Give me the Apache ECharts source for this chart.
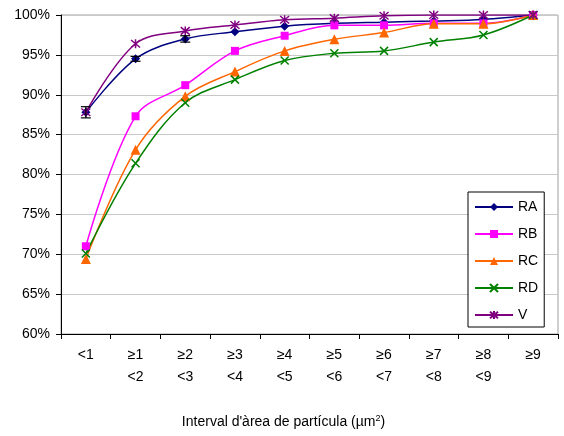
<!DOCTYPE html>
<html>
<head>
<meta charset="utf-8">
<script src="https://cdn.jsdelivr.net/npm/echarts@6/dist/echarts.min.js"></script>
<style>
  html, body { margin: 0; padding: 0; background: #fff; }
  #chart { width: 564px; height: 436px; }
</style>
</head>
<body>
<div id="chart"></div>
<script>
// cumulative share of particles per area interval (%)
var categories = ['<1', '≥1\n<2', '≥2\n<3', '≥3\n<4', '≥4\n<5', '≥5\n<6', '≥6\n<7', '≥7\n<8', '≥8\n<9', '≥9'];
var yTicks = [60, 65, 70, 75, 80, 85, 90, 95, 100];

var RA = [87.8, 94.5, 97.0, 97.9, 98.6, 98.95, 99.1, 99.25, 99.45, 100];
var RB = [71.0, 87.3, 91.2, 95.5, 97.4, 98.7, 98.7, 98.95, 98.95, 100];
var RC = [69.4, 83.1, 89.8, 92.9, 95.5, 96.95, 97.8, 98.9, 98.9, 100];
var RD = [70.1, 81.4, 89.0, 91.9, 94.3, 95.2, 95.5, 96.6, 97.5, 100];
var V  = [87.8, 96.4, 98.0, 98.75, 99.4, 99.6, 99.9, 100, 100, 100];

// error bars drawn on the first points: [category index, value, half width]
var errorBars = [[0, 87.8, 0.7], [1, 94.5, 0.3], [2, 97.0, 0.4]];

var FONT = 'Liberation Sans, Arial, sans-serif';

var symX = 'path://M0,0L10,10M10,0L0,10';
var symStar = 'path://M0,0L10,10M10,0L0,10M5,-1L5,11';

function lineSeries(name, data, color, symbol, size, stroke) {
  return {
    name: name,
    type: 'line',
    data: data,
    smooth: 0.35,
    symbol: symbol,
    symbolSize: size,
    showAllSymbol: true,
    lineStyle: { color: color, width: 1.5 },
    itemStyle: stroke
      ? { color: color, borderColor: color, borderWidth: 1.5 }
      : { color: color },
    emphasis: { disabled: true },
    z: 3
  };
}

var chart = echarts.init(document.getElementById('chart'));

chart.setOption({
  animation: false,
  backgroundColor: '#fff',
  textStyle: { fontFamily: FONT },
  grid: {
    left: 61, right: 6, top: 15, bottom: 102,
    show: true, borderColor: '#a0a0a0', borderWidth: 1
  },
  legend: {
    orient: 'vertical',
    left: 468,
    top: 192,
    padding: [8, 6, 5, 6],
    itemWidth: 38,
    itemHeight: 10,
    itemGap: 13,
    backgroundColor: '#fff',
    borderColor: '#000',
    borderWidth: 1,
    borderRadius: 0,
    textStyle: { fontFamily: FONT, fontSize: 14, lineHeight: 14, color: '#000' },
    data: ['RA', 'RB', 'RC', 'RD', 'V']
  },
  xAxis: {
    type: 'category',
    data: categories,
    boundaryGap: true,
    axisLine: { lineStyle: { color: '#000', width: 1 } },
    axisTick: { show: true, length: 5, inside: false, lineStyle: { color: '#000' } },
    axisLabel: {
      fontFamily: FONT, fontSize: 14, color: '#000',
      lineHeight: 22, margin: 10, interval: 0
    },
    splitLine: { show: false },
    name: "Interval d'àrea de partícula (µm{sup|2})",
    nameLocation: 'middle',
    nameGap: 80,
    nameTextStyle: {
      fontFamily: FONT, fontSize: 14, color: '#000',
      padding: [0, 52, 0, 0],
      rich: {
        sup: { fontFamily: FONT, fontSize: 9, color: '#000', verticalAlign: 'top', padding: [0, 0, 8, 0] }
      }
    }
  },
  yAxis: {
    type: 'value',
    min: yTicks[0],
    max: yTicks[yTicks.length - 1],
    interval: 5,
    axisLine: { show: true, lineStyle: { color: '#000', width: 1 } },
    axisTick: { show: true, length: 5, inside: false, lineStyle: { color: '#000' } },
    axisLabel: {
      fontFamily: FONT, fontSize: 14, color: '#000', margin: 11,
      formatter: '{value}%'
    },
    splitLine: { show: true, lineStyle: { color: '#c8c8c8', width: 1 } }
  },
  series: [
    lineSeries('RA', RA, '#000080', 'diamond', 9, false),
    lineSeries('RB', RB, '#ff00ff', 'rect', 8, false),
    lineSeries('RC', RC, '#ff6600', 'triangle', 10, false),
    lineSeries('RD', RD, '#008000', symX, 8, true),
    lineSeries('V', V, '#800080', symStar, 9, true),
    {
      type: 'custom',
      name: 'err',
      data: errorBars,
      z: 4,
      silent: true,
      renderItem: function (params, api) {
        var i = api.value(0), v = api.value(1), e = api.value(2);
        var hi = api.coord([i, v + e]);
        var lo = api.coord([i, v - e]);
        var w = 5;
        var style = { stroke: '#000', lineWidth: 1.2 };
        return {
          type: 'group',
          children: [
            { type: 'line', shape: { x1: hi[0], y1: hi[1], x2: lo[0], y2: lo[1] }, style: style },
            { type: 'line', shape: { x1: hi[0] - w, y1: hi[1], x2: hi[0] + w, y2: hi[1] }, style: style },
            { type: 'line', shape: { x1: lo[0] - w, y1: lo[1], x2: lo[0] + w, y2: lo[1] }, style: style }
          ]
        };
      }
    }
  ]
});
</script>
</body>
</html>
